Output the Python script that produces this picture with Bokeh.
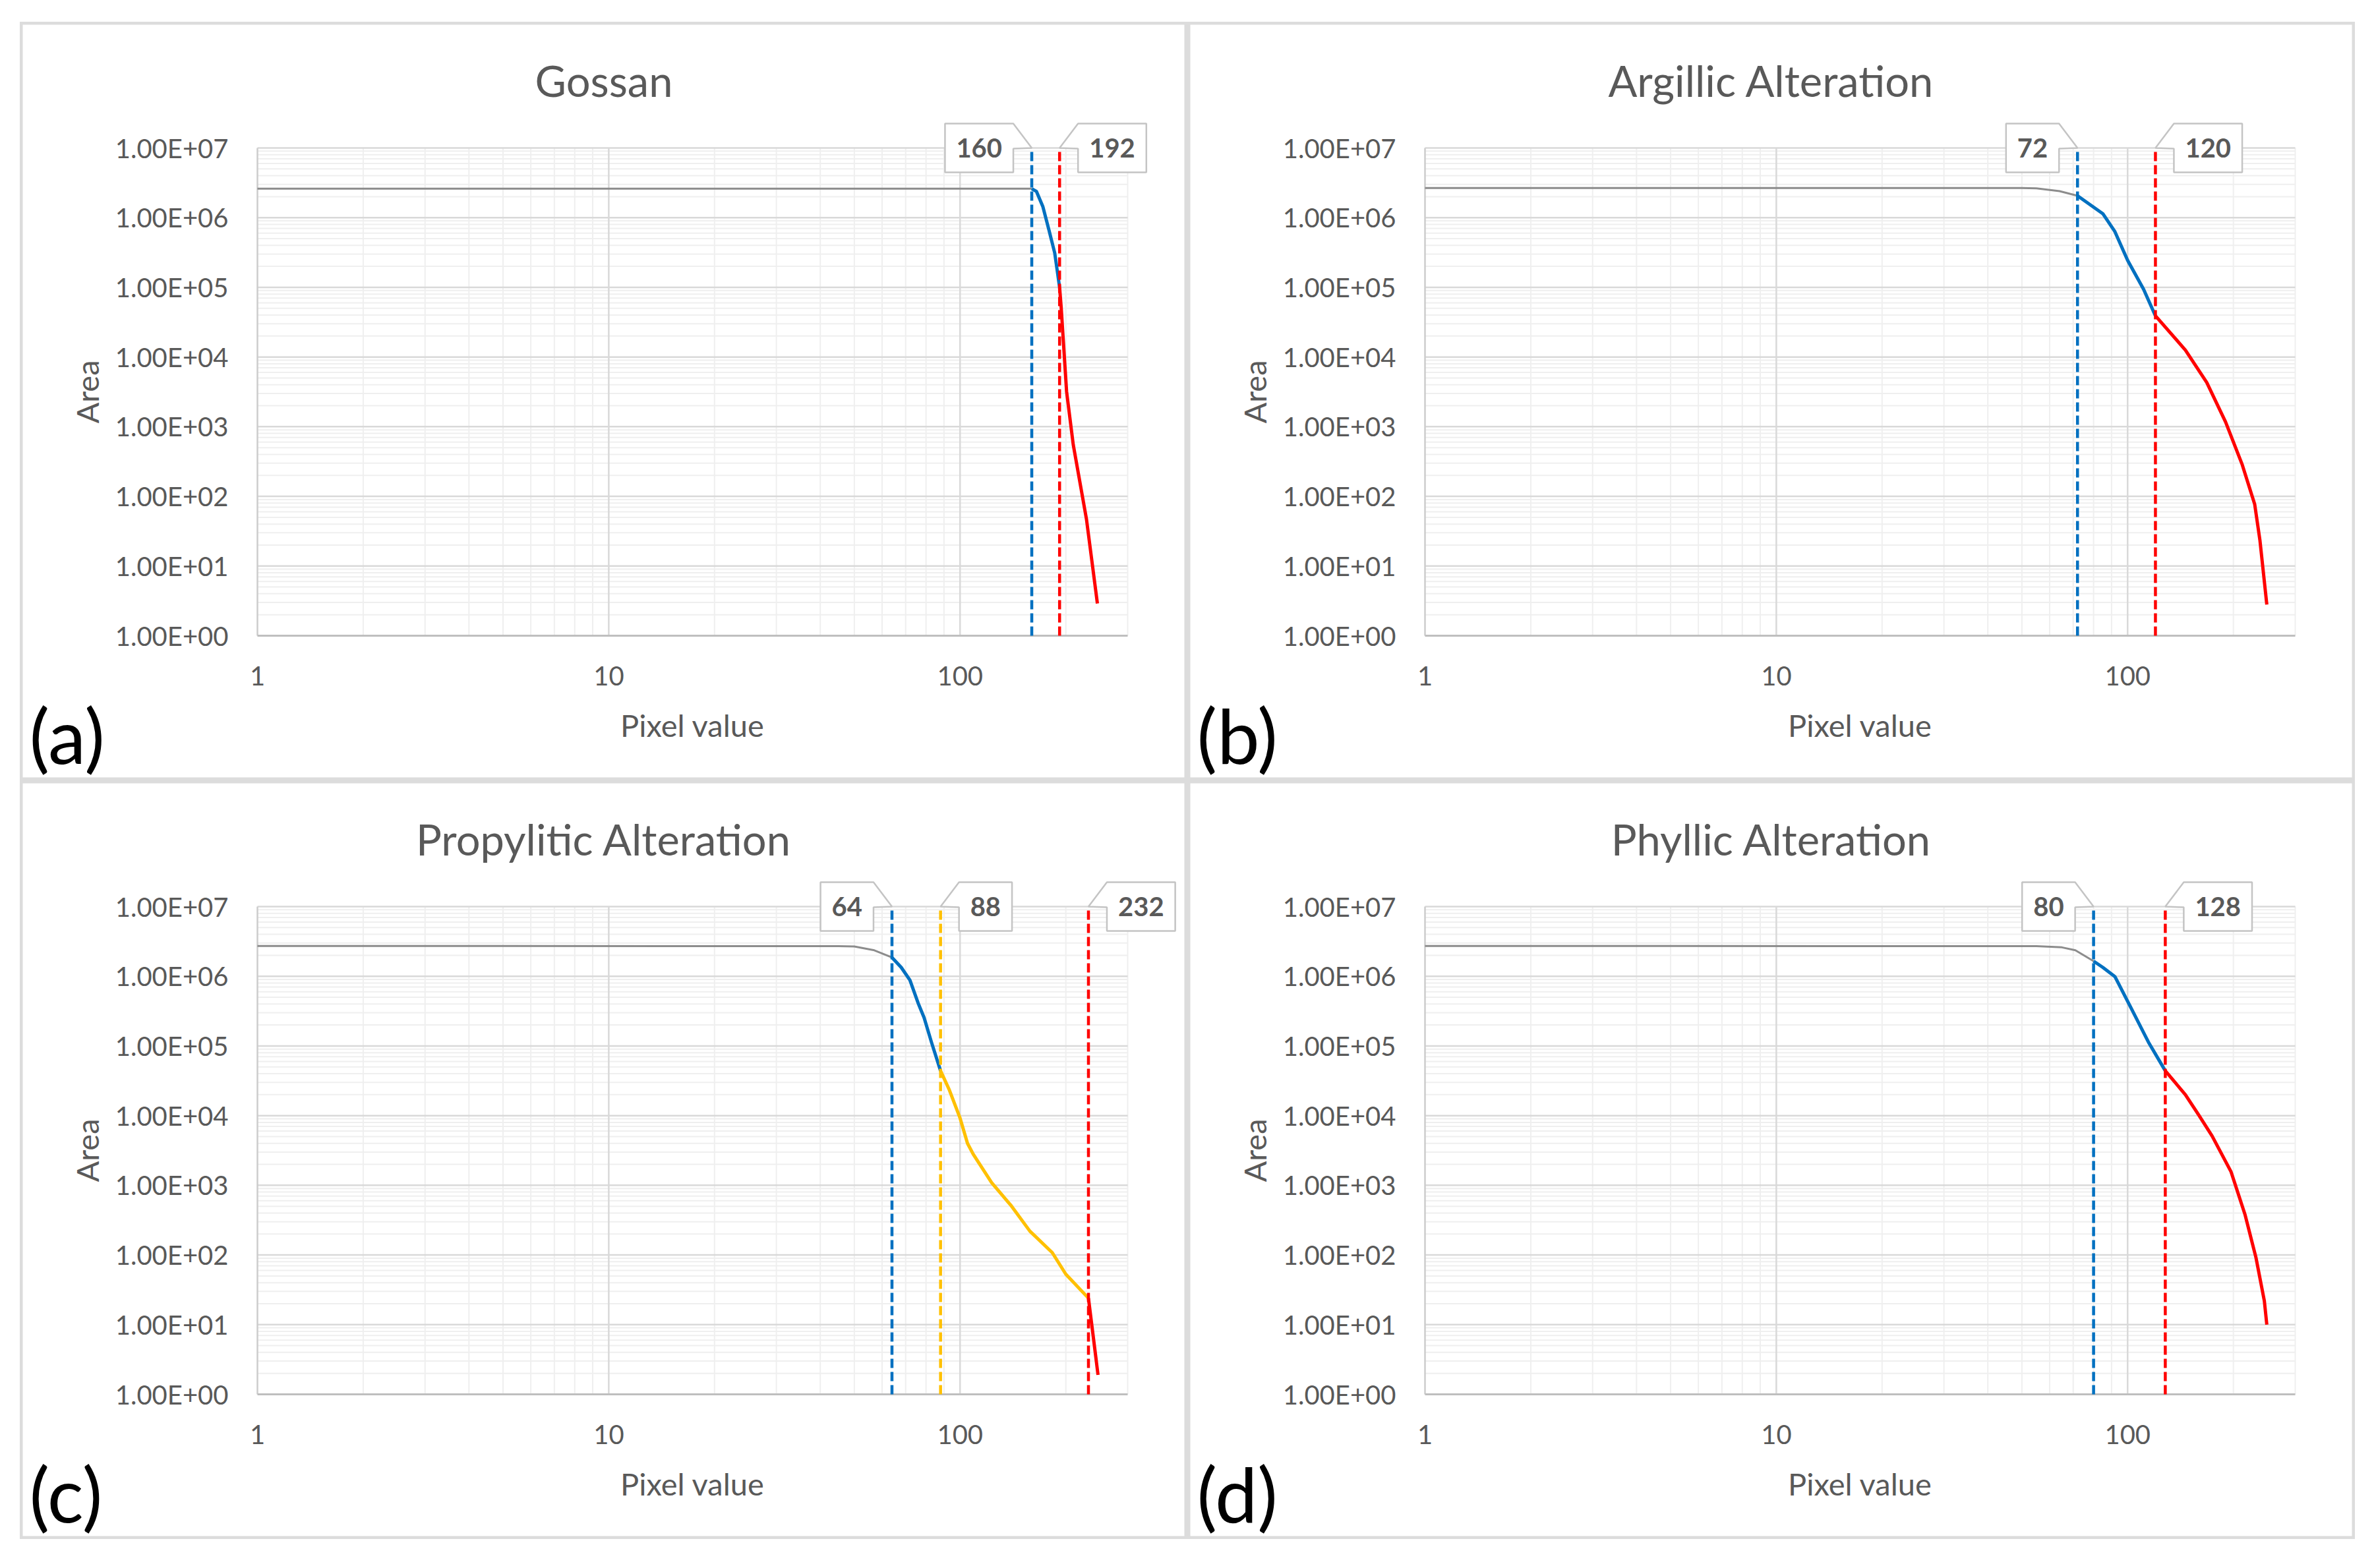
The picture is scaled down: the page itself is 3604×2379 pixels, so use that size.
import math
from bokeh.plotting import figure
from bokeh.models import Range1d
from bokeh.core.properties import value
from bokeh.layouts import column, row
from bokeh.embed import file_html
from bokeh.resources import INLINE

# ---------------- data ----------------
titles = ["Gossan", "Argillic Alteration", "Propylitic Alteration", "Phyllic Alteration"]
tags = ["(a)", "(b)", "(c)", "(d)"]
x_title = "Pixel value"
y_title = "Area"

gossan_px = [1, 150, 160, 165, 172, 179, 186, 192, 194, 201, 210, 229, 246]
gossan_area = [2.6e6, 2.6e6, 2.6e6, 2.38e6, 1.45e6, 6.7e5, 3.1e5, 1.0e5, 5.2e4, 3.2e3, 5.5e2, 47, 2.9]
gossan_thr = [160, 192]

argillic_px = [1, 50, 55, 64, 72, 85, 92, 100, 111, 120, 146, 168, 190, 212, 230, 238, 249]
argillic_area = [2.67e6, 2.66e6, 2.63e6, 2.40e6, 2.06e6, 1.14e6, 6.3e5, 2.44e5, 9.4e4, 3.9e4,
                 1.26e4, 4.3e3, 1.17e3, 284, 77, 23.5, 2.8]
argillic_thr = [72, 120]

propylitic_px = [1, 45, 50, 57, 64, 68, 72, 76, 79, 83, 88, 93, 100, 105, 109, 123, 140, 158,
                 183, 200, 232, 247]
propylitic_area = [2.72e6, 2.71e6, 2.68e6, 2.36e6, 1.86e6, 1.34e6, 8.8e5, 4.1e5, 2.55e5, 1.11e5,
                   4.4e4, 2.4e4, 9.2e3, 4.0e3, 2.8e3, 1.09e3, 505, 220, 108, 53, 24, 1.9]
propylitic_thr = [64, 88, 232]

phyllic_px = [1, 55, 65, 71, 80, 85, 92, 102, 115, 128, 146, 159, 174, 197, 216, 232, 245, 249]
phyllic_area = [2.72e6, 2.71e6, 2.6e6, 2.36e6, 1.65e6, 1.34e6, 9.9e5, 3.6e5, 1.1e5, 4.4e4,
                2.0e4, 1.04e4, 5.1e3, 1.56e3, 376, 91, 21.9, 10]
phyllic_thr = [80, 128]

segment_colors = [
    ["#8c8c8c", "#0070C0", "#FF0000"],
    ["#8c8c8c", "#0070C0", "#FF0000"],
    ["#8c8c8c", "#0070C0", "#FFC000", "#FF0000"],
    ["#8c8c8c", "#0070C0", "#FF0000"],
]
threshold_colors = [
    ["#0070C0", "#FF0000"],
    ["#0070C0", "#FF0000"],
    ["#0070C0", "#FFC000", "#FF0000"],
    ["#0070C0", "#FF0000"],
]

x_ticks = [1, 10, 100]
x_tick_labels = ["1", "10", "100"]
x_minor = [2, 3, 4, 5, 6, 7, 8, 9, 20, 30, 40, 50, 60, 70, 80, 90, 200, 300]
y_ticks = [1, 10, 100, 1000, 10000, 100000, 1000000, 10000000]
y_tick_labels = ["1.00E+00", "1.00E+01", "1.00E+02", "1.00E+03",
                 "1.00E+04", "1.00E+05", "1.00E+06", "1.00E+07"]
y_minor = [k * 10 ** e for e in range(7) for k in range(2, 10)]

X_MIN, X_MAX = 1, 300
Y_MIN, Y_MAX = 1, 1e7

panels = [
    (gossan_px, gossan_area, gossan_thr),
    (argillic_px, argillic_area, argillic_thr),
    (propylitic_px, propylitic_area, propylitic_thr),
    (phyllic_px, phyllic_area, phyllic_thr),
]

# ---------------- geometry / style ----------------
W, H = 1771, 1151          # one panel (canvas == frame)
X0, Y0 = 360, 931          # canvas pixel of the plot-area corner (x=1, y=1)
FW, FH = 1320, 740         # plot-area size in pixels
PPD_X = FW / math.log10(X_MAX / X_MIN)
PPD_Y = FH / math.log10(Y_MAX / Y_MIN)
FONT = value("Lato")
TXT = "#595959"


def xo(x, dx):
    """x value shifted by dx screen pixels on the log axis"""
    return x * 10 ** (dx / PPD_X)


def yo(y, dy):
    """y value shifted by dy screen pixels (up) on the log axis"""
    return y * 10 ** (dy / PPD_Y)


def make_panel(i):
    px, area, thr = panels[i]
    p = figure(width=W, height=H, x_axis_type="log", y_axis_type="log",
               x_range=Range1d(xo(X_MIN, -X0), xo(X_MIN, W - X0)),
               y_range=Range1d(yo(Y_MIN, -(H - Y0)), yo(Y_MIN, Y0)),
               x_axis_location=None, y_axis_location=None,
               toolbar_location=None, output_backend="svg", min_border=0)
    p.outline_line_color = "#dcdcdc"
    p.outline_line_width = 8
    p.background_fill_color = "white"
    p.border_fill_color = "white"
    p.xgrid.visible = False
    p.ygrid.visible = False

    # grid lines (minor, then major) within the plot area
    p.segment(x0=x_minor, y0=[Y_MIN] * len(x_minor), x1=x_minor, y1=[Y_MAX] * len(x_minor),
              line_color="#efefef", line_width=2)
    p.segment(x0=[X_MIN] * len(y_minor), y0=y_minor, x1=[X_MAX] * len(y_minor), y1=y_minor,
              line_color="#efefef", line_width=2)
    xt = x_ticks[1:]
    yt = y_ticks[1:]
    p.segment(x0=xt, y0=[Y_MIN] * len(xt), x1=xt, y1=[Y_MAX] * len(xt),
              line_color="#d9d9d9", line_width=2.5)
    p.segment(x0=[X_MIN] * len(yt), y0=yt, x1=[X_MAX] * len(yt), y1=yt,
              line_color="#d9d9d9", line_width=2.5)
    # axis lines
    p.line([X_MIN, X_MIN], [Y_MIN, Y_MAX], line_color="#cccccc", line_width=2.5)
    p.line([X_MIN, X_MAX], [Y_MIN, Y_MIN], line_color="#bfbfbf", line_width=3)

    # curve segments
    bounds = [X_MIN] + thr + [max(px)]
    for k, col in enumerate(segment_colors[i]):
        lo, hi = bounds[k], bounds[k + 1]
        xs = [x for x in px if lo <= x <= hi]
        ys = [a for x, a in zip(px, area) if lo <= x <= hi]
        p.line(xs, ys, line_color=col, line_width=3 if k == 0 else 5, line_join="round")

    # threshold lines + callouts
    for j, t in enumerate(thr):
        col = threshold_colors[i][j]
        p.line([t, t], [Y_MIN, Y_MAX], line_color=col, line_width=4.5, line_dash="14 6")
    for j, t in enumerate(thr):
        txt = str(t)
        w = len(txt) * 23.2 + 34
        gap, half = 28, 37
        if j == 0:
            R, L = -gap, -gap - w
            pts = [(L, half), (R, half), (0, 0), (R, -1), (R, -half), (L, -half)]
        else:
            L, R = gap, gap + w
            pts = [(R, half), (L, half), (0, 0), (L, -1), (L, -half), (R, -half)]
        p.patch([xo(t, a) for a, b in pts], [yo(Y_MAX, b) for a, b in pts],
                fill_color="white", line_color="#c4c4c4", line_width=2.5)
        p.text(x=[xo(t, (L + R) / 2)], y=[Y_MAX], text=[txt], text_align="center",
               text_baseline="middle", text_font=FONT, text_font_style="bold",
               text_font_size="40px", text_color=TXT)

    # tick labels
    p.text(x=[xo(X_MIN, -44)] * len(y_ticks), y=y_ticks, text=y_tick_labels,
           text_align="right", text_baseline="middle", text_font=FONT,
           text_font_size="40px", text_color=TXT)
    p.text(x=x_ticks, y=[yo(Y_MIN, -61)] * len(x_ticks), text=x_tick_labels,
           text_align="center", text_baseline="middle", text_font=FONT,
           text_font_size="40px", text_color=TXT)

    # axis titles
    xc = math.sqrt(X_MIN * X_MAX)
    yc = math.sqrt(Y_MIN * Y_MAX)
    p.text(x=[xc], y=[yo(Y_MIN, -135)], text=[x_title], text_align="center",
           text_baseline="middle", text_font=FONT, text_font_size="47px", text_color=TXT)
    p.text(x=[xo(X_MIN, -259)], y=[yc], text=[y_title], angle=math.pi / 2,
           text_align="center", text_baseline="middle", text_font=FONT,
           text_font_size="47px", text_color=TXT)

    # chart title (centred on the panel) and panel tag
    p.text(x=[xo(X_MIN, W / 2 - X0)], y=[yo(Y_MAX, 103)], text=[titles[i]],
           text_align="center", text_baseline="middle", text_font=FONT,
           text_font_size="65px", text_color=TXT)
    p.text(x=[xo(X_MIN, -346)], y=[yo(Y_MIN, -149)], text=[tags[i]],
           text_align="left", text_baseline="middle", text_font=FONT,
           text_font_size="115px", text_color="black")
    return p


figs = [make_panel(i) for i in range(4)]
layout = column(row(figs[0], figs[1]), row(figs[2], figs[3]), margin=(33, 0, 0, 30))
open("out.html", "w").write(file_html(layout, INLINE))
